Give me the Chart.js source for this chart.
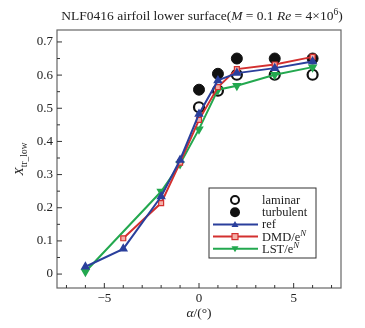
<!DOCTYPE html>
<html>
<head>
<meta charset="utf-8">
<script src="https://cdn.jsdelivr.net/npm/chart.js@4"></script>
<style>
  html, body { margin: 0; padding: 0; background: #fff; }
  #wrap { width: 365px; height: 328px; }
</style>
</head>
<body>
<div id="wrap"><canvas id="chart" width="365" height="328"></canvas></div>
<script>
// ─────────────────────────────────────
// DATA
// ─────────────────────────────────────

const alphaLam = [0, 1, 2, 4, 6];
const laminar = [0.503, 0.553, 0.601, 0.601, 0.601];

const alphaTurb = [0, 1, 2, 4, 6];
const turbulent = [0.556, 0.604, 0.650, 0.650, 0.650];

const alphaRef = [-6, -4, -2, -1, 0, 1, 2, 4, 6];
const refVals = [0.022, 0.076, 0.234, 0.344, 0.483, 0.584, 0.606, 0.621, 0.641];

const alphaDmd = [-4, -2, -1, 0, 1, 2, 4, 6];
const dmdVals = [0.108, 0.214, 0.336, 0.465, 0.564, 0.618, 0.632, 0.655];

const alphaLst = [-6, -2, -1, 0, 1, 2, 4, 6];
const lstVals = [0.007, 0.249, 0.332, 0.437, 0.556, 0.568, 0.601, 0.624];

const xTicks = [-5, 0, 5];
const yTicks = [0, 0.1, 0.2, 0.3, 0.4, 0.5, 0.6, 0.7];

const BLUE = "#2a3f9c";
const RED = "#d3302f";
const GREEN = "#23a84f";
const SERIF = "'Liberation Serif', 'DejaVu Serif', serif";

const pts = (xs, ys) => xs.map((x, i) => ({ x: x, y: ys[i] }));


// ─────────────────────────────────────
// FRAME, MINOR TICKS, TITLES, LEGEND
// ─────────────────────────────────────

// draws a row of text pieces, each piece may be italic / sub / sup
function drawRich(ctx, parts, x, y, size, align) {
    let total = 0;
    parts.forEach(p => {
        const s = p.sub || p.sup ? size * 0.7 : size;
        ctx.font = (p.it ? "italic " : "") + s + "px " + SERIF;
        p.w = ctx.measureText(p.t).width;
        p.s = s;
        total += p.w;
    });
    let cx = align === "center" ? x - total / 2 : x;
    ctx.textAlign = "left";
    ctx.textBaseline = "alphabetic";
    parts.forEach(p => {
        ctx.font = (p.it ? "italic " : "") + p.s + "px " + SERIF;
        let dy = 0;
        if (p.sub) dy = size * 0.28;
        if (p.sup) dy = -size * 0.4;
        ctx.fillText(p.t, cx, y + dy);
        cx += p.w;
    });
}

const decorPlugin = {
    id: "decor",
    afterDraw(chart) {
        const ctx = chart.ctx;
        const a = chart.chartArea;
        const xs = chart.scales.x;
        const ys = chart.scales.y;

        ctx.save();

        // frame
        ctx.strokeStyle = "#666";
        ctx.lineWidth = 1.2;
        ctx.strokeRect(a.left, a.top, a.right - a.left, a.bottom - a.top);

        // inward ticks
        ctx.strokeStyle = "#333";
        ctx.lineWidth = 1;
        for (let v = -7; v <= 7; v++) {
            const px = xs.getPixelForValue(v);
            const len = v % 5 === 0 ? 5 : 3;
            ctx.beginPath();
            ctx.moveTo(px, a.bottom);
            ctx.lineTo(px, a.bottom - len);
            ctx.stroke();
        }
        for (let k = 0; k <= 14; k++) {
            const v = k * 0.05;
            const py = ys.getPixelForValue(v);
            const len = k % 2 === 0 ? 5 : 3;
            ctx.beginPath();
            ctx.moveTo(a.left, py);
            ctx.lineTo(a.left + len, py);
            ctx.stroke();
        }

        ctx.fillStyle = "#222";

        // title
        drawRich(ctx, [
            { t: "NLF0416 airfoil lower surface(" },
            { t: "M", it: true },
            { t: " = 0.1 " },
            { t: "Re", it: true },
            { t: " = 4×10" },
            { t: "6", sup: true },
            { t: ")" }
        ], (a.left + a.right) / 2 + 3, 20, 13.5, "center");

        // x axis title
        drawRich(ctx, [
            { t: "α", it: true },
            { t: "/(°)" }
        ], (a.left + a.right) / 2, 317, 13.5, "center");

        // y axis title
        ctx.save();
        ctx.translate(23, (a.top + a.bottom) / 2);
        ctx.rotate(-Math.PI / 2);
        drawRich(ctx, [
            { t: "X", it: true },
            { t: "tr_low", sub: true }
        ], 0, 0, 13.5, "center");
        ctx.restore();

        // legend box
        const lx = 209, ly = 188, lw = 107, lh = 70;
        ctx.fillStyle = "#fff";
        ctx.fillRect(lx, ly, lw, lh);
        ctx.strokeStyle = "#333";
        ctx.lineWidth = 1;
        ctx.strokeRect(lx, ly, lw, lh);

        const rows = [
            { kind: "open", label: [{ t: "laminar" }] },
            { kind: "fill", label: [{ t: "turbulent" }] },
            { kind: "line", color: BLUE, m: "tri", label: [{ t: "ref" }] },
            { kind: "line", color: RED, m: "sq", label: [{ t: "DMD/e" }, { t: "N", it: true, sup: true }] },
            { kind: "line", color: GREEN, m: "dtri", label: [{ t: "LST/e" }, { t: "N", it: true, sup: true }] }
        ];
        rows.forEach((r, i) => {
            const y = ly + 12 + i * 12.2;
            const mx = 235;
            if (r.kind === "open") {
                ctx.beginPath();
                ctx.arc(mx, y, 4, 0, Math.PI * 2);
                ctx.strokeStyle = "#111";
                ctx.lineWidth = 2;
                ctx.stroke();
            } else if (r.kind === "fill") {
                ctx.beginPath();
                ctx.arc(mx, y, 5, 0, Math.PI * 2);
                ctx.fillStyle = "#111";
                ctx.fill();
            } else {
                ctx.strokeStyle = r.color;
                ctx.lineWidth = 2;
                ctx.beginPath();
                ctx.moveTo(213, y);
                ctx.lineTo(258, y);
                ctx.stroke();
                ctx.fillStyle = r.color;
                ctx.beginPath();
                if (r.m === "tri") {
                    ctx.moveTo(mx, y - 3.5);
                    ctx.lineTo(mx + 3.5, y + 2.5);
                    ctx.lineTo(mx - 3.5, y + 2.5);
                    ctx.closePath();
                    ctx.fill();
                } else if (r.m === "dtri") {
                    ctx.moveTo(mx, y + 3.5);
                    ctx.lineTo(mx + 3.5, y - 2.5);
                    ctx.lineTo(mx - 3.5, y - 2.5);
                    ctx.closePath();
                    ctx.fill();
                } else {
                    ctx.fillStyle = "#f4b0a8";
                    ctx.fillRect(mx - 3, y - 3, 6, 6);
                    ctx.strokeStyle = r.color;
                    ctx.lineWidth = 1.2;
                    ctx.strokeRect(mx - 3, y - 3, 6, 6);
                }
            }
            ctx.fillStyle = "#222";
            drawRich(ctx, r.label, 262, y + 4, 12.5, "left");
        });

        ctx.restore();
    }
};


// ─────────────────────────────────────
// CHART
// ─────────────────────────────────────

new Chart(document.getElementById("chart"), {

    type: "scatter",

    data: {
        datasets: [
            {
                label: "ref",
                data: pts(alphaRef, refVals),
                showLine: true,
                borderColor: BLUE,
                backgroundColor: BLUE,
                borderWidth: 2,
                pointStyle: "triangle",
                pointRadius: 3.5,
                order: 1
            },
            {
                label: "DMD/eN",
                data: pts(alphaDmd, dmdVals),
                showLine: true,
                borderColor: RED,
                backgroundColor: "#f4b0a8",
                borderWidth: 2,
                pointBorderWidth: 1.2,
                pointStyle: "rect",
                pointRadius: 3.5,
                order: 2
            },
            {
                label: "LST/eN",
                data: pts(alphaLst, lstVals),
                showLine: true,
                borderColor: GREEN,
                backgroundColor: GREEN,
                borderWidth: 2,
                pointStyle: "triangle",
                rotation: 180,
                pointRadius: 3.5,
                order: 3
            },
            {
                label: "laminar",
                data: pts(alphaLam, laminar),
                showLine: false,
                borderColor: "#111",
                backgroundColor: "rgba(255,255,255,0)",
                pointBorderWidth: 2.2,
                pointRadius: 5,
                order: 5
            },
            {
                label: "turbulent",
                data: pts(alphaTurb, turbulent),
                showLine: false,
                borderColor: "#111",
                backgroundColor: "#111",
                pointRadius: 5.5,
                order: 6
            }
        ]
    },

    options: {
        responsive: false,
        animation: false,
        layout: {
            padding: { left: 0, right: 24, top: 30, bottom: 0 }
        },
        plugins: {
            legend: { display: false },
            tooltip: { enabled: false }
        },
        scales: {
            x: {
                type: "linear",
                min: -7.5,
                max: 7.5,
                grid: { display: false, drawTicks: false },
                border: { display: false },
                afterBuildTicks: s => { s.ticks = xTicks.map(v => ({ value: v })); },
                afterFit: s => { s.height = 40; },
                ticks: {
                    color: "#222",
                    padding: 3,
                    font: { family: SERIF, size: 13 },
                    callback: v => v < 0 ? "\u2212" + Math.abs(v) : String(v)
                }
            },
            y: {
                type: "linear",
                min: -0.042,
                max: 0.736,
                grid: { display: false, drawTicks: false },
                border: { display: false },
                afterBuildTicks: s => { s.ticks = yTicks.map(v => ({ value: v })); },
                afterFit: s => { s.width = 57; },
                ticks: {
                    color: "#222",
                    padding: 4,
                    font: { family: SERIF, size: 13 },
                    callback: v => String(Math.round(v * 10) / 10)
                }
            }
        }
    },

    plugins: [decorPlugin]
});
</script>
</body>
</html>
